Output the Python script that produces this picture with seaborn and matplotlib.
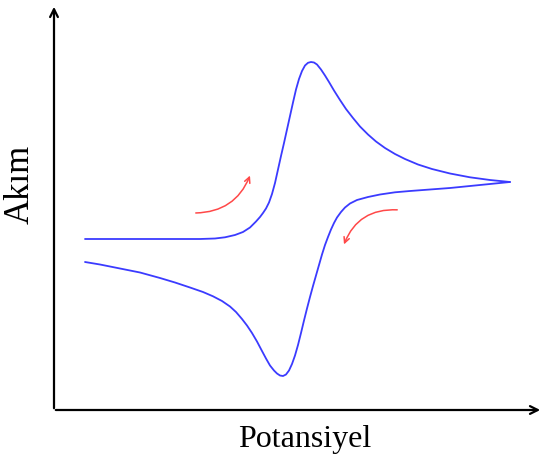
import matplotlib
matplotlib.use("Agg")
import matplotlib.pyplot as plt
import seaborn as sns
import pandas as pd
from matplotlib.patches import FancyArrowPatch

# Forward scan (potential, current) (pixel-based units, y downward)
fwd_potential = [85, 130, 170, 200, 215, 225, 235, 243, 250, 256, 260, 263, 266, 269, 272, 275, 278, 281, 284, 287, 290, 293, 296, 299, 302, 305, 308, 311, 314, 317, 321, 325, 329, 334, 340, 346, 353, 360, 368, 376, 385, 395, 405, 418, 432, 450, 470, 490, 510]
fwd_current = [239, 239, 239, 239, 238.5, 237.3, 235, 232, 227.5, 221.5, 217, 213, 208.5, 202.5, 194, 183, 169.5, 156, 143, 129.5, 116, 102.5, 89.5, 79, 71, 65.5, 62.8, 62, 62.5, 64.5, 69.5, 75.5, 82, 90.5, 100, 109, 118, 126.5, 134.5, 141.5, 148, 154, 159, 164.5, 169, 173.5, 177.3, 180, 182]
# Reverse scan
rev_potential = [510, 490, 470, 450, 430, 410, 395, 380, 368, 357, 350, 345, 341, 337, 334, 331, 328, 325, 322, 319, 316, 313, 310, 307, 304, 301, 298, 295, 292, 289, 286, 283, 280, 277, 274, 270, 266, 262, 257, 252, 247, 242, 236, 230, 222, 213, 203, 190, 175, 160, 140, 120, 100, 85]
rev_current = [182, 184, 186, 188, 189.5, 191, 192.3, 194.5, 197, 200, 203.5, 207.5, 212, 217.5, 223, 229.5, 237, 245, 254.5, 265, 275.5, 286, 297, 308.5, 320.5, 333, 345, 355.5, 364, 370.5, 374.5, 376, 375.5, 373.5, 370.5, 365.5, 358.5, 351, 341.5, 333, 325.5, 319, 312, 306.5, 301, 296.3, 292, 287.5, 282.5, 278, 272.5, 268.5, 264.5, 262]

H = 463
sns.set_theme(style="white")
fig = plt.figure(figsize=(5.43, 4.63), dpi=100)
ax = fig.add_axes([0, 0, 1, 1])
ax.set_xlim(0, 543)
ax.set_ylim(0, H)
ax.axis("off")

df_f = pd.DataFrame({"E": fwd_potential, "I": [H - v for v in fwd_current]})
df_r = pd.DataFrame({"E": rev_potential, "I": [H - v for v in rev_current]})
for d in (df_f, df_r):
    sns.lineplot(data=d, x="E", y="I", sort=False, color="#3b3bff", lw=1.3, ax=ax)
for ln in ax.lines:
    ln.set_solid_joinstyle("round")

# axes arrows
ax.annotate("", xy=(54, H - 4), xytext=(54, H - 411),
            arrowprops=dict(arrowstyle="->", color="black", lw=1.6, mutation_scale=14))
ax.annotate("", xy=(543, H - 410), xytext=(53, H - 410),
            arrowprops=dict(arrowstyle="->", color="black", lw=1.6, mutation_scale=14))

# red direction arrows
a1 = FancyArrowPatch((193, H - 213), (251, H - 173), connectionstyle="arc3,rad=0.35",
                     arrowstyle="->", mutation_scale=10, color="#ff4848", lw=1.1)
a2 = FancyArrowPatch((400, H - 210), (343, H - 247), connectionstyle="arc3,rad=0.38",
                     arrowstyle="->", mutation_scale=10, color="#ff4848", lw=1.1)
ax.add_patch(a1)
ax.add_patch(a2)

ax.text(305, H - 440, "Potansiyel", ha="center", va="center", fontsize=23,
        family="Liberation Serif", color="black")
ax.text(20, H - 184, "Akım", ha="center", va="center", rotation=90, fontsize=25,
        family="Liberation Serif", color="black")

fig.savefig("out.png", dpi=100)
